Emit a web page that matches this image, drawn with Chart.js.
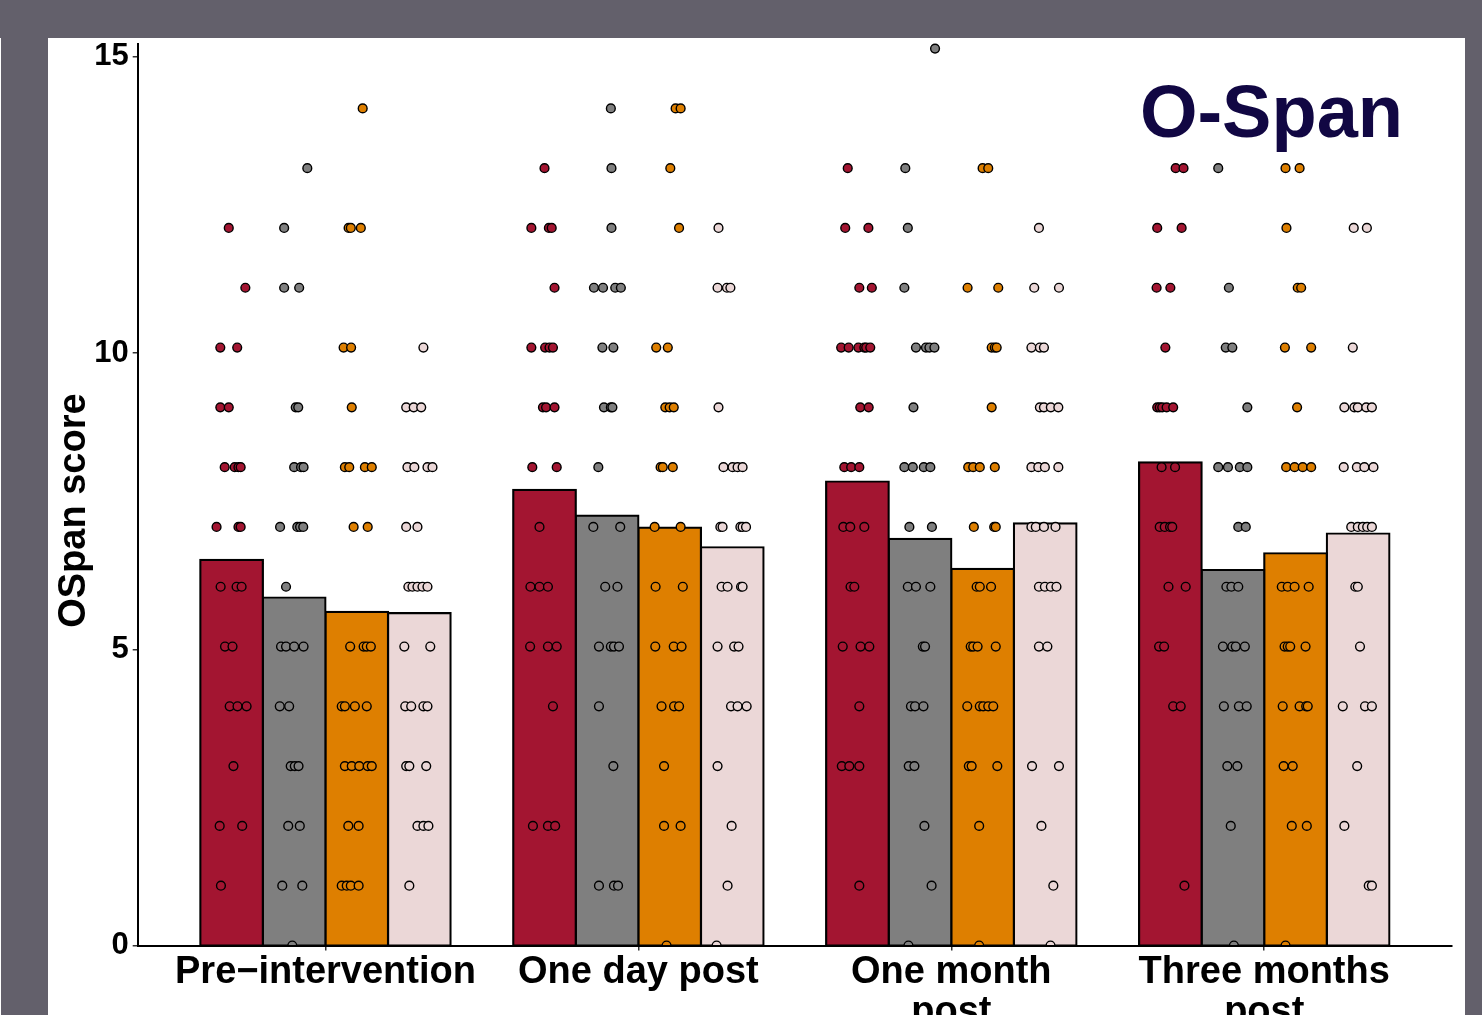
<!DOCTYPE html>
<html>
<head>
<meta charset="utf-8">
<script src="https://cdn.jsdelivr.net/npm/chart.js@4.4.0/dist/chart.umd.min.js"></script>
<style>
  html, body { margin: 0; padding: 0; width: 1482px; height: 1015px; overflow: hidden; background: #63606b; }
  #edge { position: absolute; left: 0; top: 38px; width: 1px; height: 977px; background: #fff; }
  #panel { position: absolute; left: 48px; top: 38px; width: 1417px; height: 977px; background: #fff; }
  canvas { display: block; }
</style>
</head>
<body>
<div id="edge"></div>
<div id="panel"><canvas id="chart" width="1417" height="977"></canvas></div>
<script>
// Time points on the x axis (multi-line labels are arrays)
const categories = [
  ['Pre\u2212intervention'],
  ['One day post'],
  ['One month', 'post'],
  ['Three months', 'post']
];

// Group names (one bar + one dot cloud per group at each time point)
const groupNames = ['Group 1', 'Group 2', 'Group 3', 'Group 4'];

// Group means (bar heights), one value per time point
const meanG1 = [6.45, 7.62, 7.76, 8.08];
const meanG2 = [5.82, 7.19, 6.80, 6.28];
const meanG3 = [5.58, 6.99, 6.30, 6.56];
const meanG4 = [5.56, 6.66, 7.06, 6.89];

// Individual OSpan scores: [score, horizontal jitter in thousandths of a category]
const scoresG1 = [
  [[12,-9],[11,44],[10,-36],[10,18],[9,-36],[9,-9],[8,-22],[8,10],[8,22],[8,29],[7,-48],[7,22],[7,29],[6,-35],[6,16],[6,32],[5,-21],[5,3],[4,-6],[4,19],[4,48],[3,6],[2,-38],[2,34],[1,-34]],
  [[13,0],[12,-42],[12,14],[12,23],[11,32],[10,-42],[10,2],[10,16],[10,27],[9,-5],[9,5],[9,32],[8,-39],[8,39],[7,-16],[6,-45],[6,-16],[6,11],[5,-46],[5,11],[5,39],[4,27],[2,-37],[2,11],[2,34]],
  [[13,-31],[12,-39],[12,35],[11,6],[11,46],[10,-52],[10,-28],[10,3],[10,22],[10,28],[10,41],[9,9],[9,36],[8,-42],[8,-20],[8,6],[7,-45],[7,-23],[7,22],[6,-22],[6,-10],[5,-47],[5,10],[5,38],[4,6],[3,-50],[3,-26],[3,6],[1,6]],
  [[13,17],[13,42],[12,-42],[12,36],[11,-44],[11,0],[10,-16],[9,-42],[9,-34],[9,-26],[9,-12],[9,9],[8,-28],[8,15],[7,-34],[7,-18],[7,-1],[7,6],[6,-6],[6,49],[5,-36],[5,-20],[4,9],[4,33],[1,45]]
];
const scoresG2 = [
  [[13,42],[12,-32],[11,-32],[11,16],[9,5],[9,13],[8,0],[8,22],[8,30],[7,-45],[7,10],[7,19],[7,29],[6,-26],[5,-42],[5,-26],[5,0],[5,30],[4,-46],[4,-16],[3,-11],[3,2],[3,14],[2,-19],[2,18],[1,-38],[1,26],[0,-6]],
  [[14,12],[13,14],[12,14],[11,-42],[11,-13],[11,26],[11,44],[10,-15],[10,20],[9,-10],[9,12],[9,17],[8,-28],[7,-44],[7,42],[6,-6],[6,33],[5,-26],[5,12],[5,22],[5,38],[4,-26],[3,20],[1,-26],[1,22],[1,35]],
  [[15,48],[13,-47],[12,-39],[11,-50],[10,-13],[10,19],[10,30],[10,46],[9,-21],[8,-50],[8,-23],[8,12],[8,33],[7,-34],[7,38],[6,-39],[6,-13],[6,33],[5,9],[5,16],[4,-29],[4,-16],[4,11],[3,-36],[3,-18],[2,14],[1,37],[0,-37]],
  [[13,-47],[11,-13],[10,-23],[10,-2],[9,46],[8,-47],[8,-16],[8,22],[8,46],[7,17],[7,41],[6,-21],[6,-5],[6,17],[5,-32],[5,-2],[5,9],[5,38],[4,-29],[4,19],[4,44],[3,-18],[3,14],[2,-7],[0,3]]
];
const scoresG3 = [
  [[14,19],[12,-26],[12,-19],[12,13],[10,-42],[10,-18],[9,-16],[8,-38],[8,-24],[8,26],[8,48],[7,-10],[7,35],[5,-21],[5,22],[5,32],[5,45],[4,-48],[4,-38],[4,-6],[4,32],[3,-38],[3,-16],[3,8],[3,35],[3,48],[2,-27],[2,6],[1,-48],[1,-32],[1,-19],[1,6]],
  [[14,19],[14,35],[13,2],[12,30],[10,-43],[10,-6],[9,-14],[9,0],[9,13],[8,-29],[8,-22],[8,10],[7,-48],[7,35],[6,-45],[6,42],[5,-46],[5,13],[5,38],[4,-26],[4,14],[4,30],[3,-18],[2,-18],[2,35],[0,-10]],
  [[13,0],[13,18],[11,-48],[11,50],[10,29],[10,39],[10,45],[9,29],[8,-46],[8,-30],[8,-9],[8,39],[7,-28],[7,37],[7,42],[6,-19],[6,-9],[6,27],[5,-38],[5,-30],[5,-16],[5,42],[4,-49],[4,-9],[4,2],[4,18],[4,34],[3,-44],[3,-35],[3,47],[2,-11],[0,-11]],
  [[13,-32],[13,13],[12,-29],[11,7],[11,18],[10,-34],[10,50],[9,5],[8,-30],[8,-3],[8,23],[8,50],[6,-44],[6,-25],[6,-3],[6,42],[5,-35],[5,-25],[5,-17],[5,32],[4,-41],[4,13],[4,34],[4,39],[3,-38],[3,-9],[2,-12],[2,36],[0,-32]]
];
const scoresG4 = [
  [[10,13],[9,-42],[9,-18],[9,6],[8,-38],[8,-16],[8,26],[8,42],[7,-42],[7,-6],[6,-35],[6,-22],[6,-6],[6,10],[6,26],[5,-48],[5,35],[4,-45],[4,-26],[4,13],[4,26],[3,-42],[3,-32],[3,22],[2,-6],[2,13],[2,29],[1,-32]],
  [[12,-44],[11,-47],[11,-17],[11,-6],[9,-44],[8,-28],[8,1],[8,17],[8,33],[7,-38],[7,-31],[7,26],[7,33],[7,44],[6,-34],[6,-15],[6,28],[6,33],[5,-47],[5,6],[5,20],[4,-4],[4,17],[4,46],[3,-47],[2,-2],[1,-15],[0,-50]],
  [[12,-20],[11,-35],[11,44],[10,-44],[10,-17],[10,-4],[9,-17],[9,-4],[9,18],[9,42],[8,-44],[8,-22],[8,-1],[8,42],[7,-44],[7,-30],[7,-4],[7,33],[6,-20],[6,-1],[6,18],[6,36],[5,-20],[5,7],[3,-42],[3,44],[2,-12],[1,26],[0,17]],
  [[12,-14],[12,28],[10,-17],[9,-44],[9,-12],[9,-1],[9,26],[9,44],[8,-46],[8,-4],[8,20],[8,49],[7,-22],[7,-1],[7,15],[7,29],[7,44],[6,-9],[6,-1],[5,6],[4,-49],[4,22],[4,44],[3,-3],[2,-44],[1,34],[1,44]]
];

// Y-axis tick labels
const yTickValues = [0, 5, 10, 15];

// ---- styling ----
const FONT = '"Liberation Sans", Arial, Helvetica, sans-serif';
const fills = ['#a31531', '#7f7f7f', '#de7f00', '#ebd7d7'];
const dodge = [-0.3, -0.1, 0.1, 0.3];   // bar centres within a time point (0.8 of a category split in four)

const means = [meanG1, meanG2, meanG3, meanG4];
const scores = [scoresG1, scoresG2, scoresG3, scoresG4];

Chart.defaults.font.family = FONT;
Chart.defaults.color = '#000';

const barSets = means.map((m, k) => ({
  type: 'bar',
  label: groupNames[k],
  data: m.map((v, i) => ({ x: i, y: v })),
  backgroundColor: fills[k],
  borderColor: '#000',
  borderWidth: 2.2,
  inflateAmount: 1.1,
  borderSkipped: false,
  categoryPercentage: 0.8,
  barPercentage: 1.0,
  yAxisID: 'y',
  order: 2
}));

const dotSets = scores.map((s, k) => ({
  type: 'scatter',
  label: groupNames[k] + ' scores',
  data: s.flatMap((cat, i) => cat.map(([v, j]) => ({ x: i + dodge[k] + j / 1000, y: v }))),
  backgroundColor: fills[k],
  borderColor: '#000',
  borderWidth: 1.4,
  pointRadius: 4.4,
  pointHoverRadius: 4.4,
  yAxisID: 'y',
  clip: { left: 10, right: 10, top: 10, bottom: 0 },
  order: 1
}));

// Corner title and rotated y-axis title
const panelText = {
  id: 'panelText',
  afterDatasetsDraw(chart) {
    const { ctx, chartArea } = chart;
    ctx.save();
    ctx.font = 'bold 74px ' + FONT;
    ctx.fillStyle = '#110743';
    ctx.textAlign = 'right';
    ctx.textBaseline = 'alphabetic';
    ctx.fillText('O-Span', chartArea.right - 49, chartArea.top + 93);
    ctx.restore();

    ctx.save();
    ctx.translate(chartArea.left - 63, (chartArea.top + chartArea.bottom) / 2 + 16);
    ctx.rotate(-Math.PI / 2);
    ctx.font = 'bold 38px ' + FONT;
    ctx.fillStyle = '#000';
    ctx.textAlign = 'center';
    ctx.textBaseline = 'middle';
    ctx.fillText('OSpan score', 0, 0);
    ctx.restore();
  }
};

new Chart(document.getElementById('chart'), {
  type: 'bar',
  data: { datasets: [...barSets, ...dotSets] },
  options: {
    responsive: false,
    animation: false,
    devicePixelRatio: 1,
    layout: { padding: { left: 0, top: 4, right: 13, bottom: 0 } },
    plugins: { legend: { display: false }, tooltip: { enabled: false }, title: { display: false } },
    scales: {
      x: {
        type: 'linear',
        min: -0.6,
        max: 3.6,
        bounds: 'data',
        offset: false,
        grid: { display: true, drawOnChartArea: false, drawTicks: true, tickLength: 5, color: '#333', lineWidth: 1.5, offset: false },
        border: { display: true, color: '#000', width: 2, z: 1 },
        ticks: {
          autoSkip: false,
          maxRotation: 0,
          minRotation: 0,
          padding: 2,
          color: '#000',
          font: { size: 38, weight: 'bold', lineHeight: 1.05 },
          callback: (v) => categories[v] || ''
        },
        afterBuildTicks: (scale) => { scale.ticks = categories.map((c, i) => ({ value: i })); },
        afterFit: (scale) => {
          scale.height = 69.5;
          scale.paddingLeft = 0;
          scale.paddingRight = 0;
        }
      },
      y: {
        type: 'linear',
        display: false,
        min: 0,
        max: 15.08,
        bounds: 'data'
      },
      yTicks: {
        type: 'linear',
        axis: 'y',
        position: 'left',
        min: 0,
        max: 15.22,
        bounds: 'data',
        grid: { display: true, drawOnChartArea: false, drawTicks: true, tickLength: 5, color: '#333', lineWidth: 1.5 },
        border: { display: true, color: '#000', width: 2, z: 1 },
        ticks: {
          padding: 4,
          color: '#000',
          font: { size: 31, weight: 'bold' },
          callback: (v) => String(v)
        },
        afterBuildTicks: (scale) => { scale.ticks = yTickValues.map(v => ({ value: v })); },
        title: { display: false },
        afterFit: (scale) => {
          scale.width = 89.7;
          scale.paddingTop = 0;
          scale.paddingBottom = 0;
        }
      }
    }
  },
  plugins: [panelText]
});
</script>
</body>
</html>
